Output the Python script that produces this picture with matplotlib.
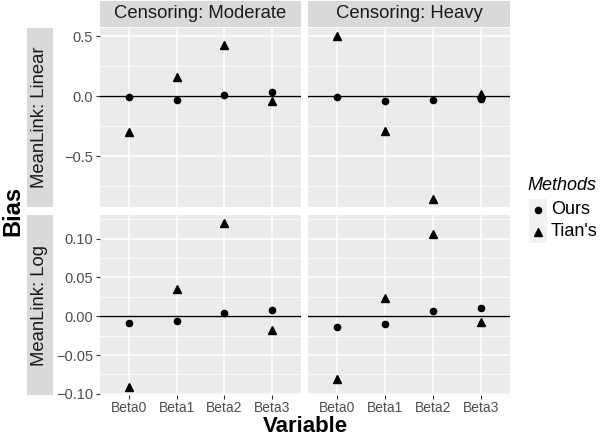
import numpy as np
import matplotlib
matplotlib.use("Agg")
import matplotlib.pyplot as plt
from matplotlib.ticker import MultipleLocator

variables = ["Beta0", "Beta1", "Beta2", "Beta3"]
censoring = ["Moderate", "Heavy"]
links = ["Linear", "Log"]

# bias values: [link][censoring]
ours = {
    ("Linear", "Moderate"): [-0.008, -0.035, 0.008, 0.036],
    ("Linear", "Heavy"): [-0.003, -0.040, -0.035, -0.020],
    ("Log", "Moderate"): [-0.0081, -0.0064, 0.0047, 0.0080],
    ("Log", "Heavy"): [-0.0137, -0.0103, 0.0073, 0.0103],
}
tians = {
    ("Linear", "Moderate"): [-0.300, 0.163, 0.427, -0.040],
    ("Linear", "Heavy"): [0.500, -0.290, -0.854, 0.020],
    ("Log", "Moderate"): [-0.091, 0.035, 0.120, -0.018],
    ("Log", "Heavy"): [-0.081, 0.024, 0.106, -0.0077],
}

W, H = 600, 437
fig = plt.figure(figsize=(W / 100, H / 100), dpi=100)
plt.rcParams["font.family"] = ["Liberation Sans", "DejaVu Sans"]

bg = "#EBEBEB"
strip_bg = "#D9D9D9"
tick_col = "#4D4D4D"


def px_axes(x0, y0, x1, y1, **kw):
    return fig.add_axes([x0 / W, 1 - y1 / H, (x1 - x0) / W, (y1 - y0) / H], **kw)


col_x = [(100, 301), (308, 510)]
row_y = [(28, 207), (215, 395)]
major = {"Linear": 0.5, "Log": 0.05}
fmt = {"Linear": "{:.1f}", "Log": "{:.2f}"}

x = np.arange(1, len(variables) + 1)

for r, link in enumerate(links):
    allv = []
    for c in censoring:
        allv += ours[(link, c)] + tians[(link, c)]
    lo, hi = min(allv), max(allv)
    pad = (hi - lo) * 0.05
    ylim = (lo - pad, hi + pad)
    for ci, cens in enumerate(censoring):
        x0, x1 = col_x[ci]
        y0, y1 = row_y[r]
        ax = px_axes(x0, y0, x1, y1)
        ax.set_facecolor(bg)
        for s in ax.spines.values():
            s.set_visible(False)
        ax.set_xlim(0.4, len(variables) + 0.6)
        ax.set_ylim(*ylim)
        ax.yaxis.set_major_locator(MultipleLocator(major[link]))
        ax.yaxis.set_minor_locator(MultipleLocator(major[link] / 2))
        ax.set_xticks(x)
        ax.grid(True, which="major", color="white", linewidth=1.1)
        ax.grid(True, which="minor", axis="y", color="white", linewidth=0.55)
        ax.set_axisbelow(True)
        ax.axhline(0, color="black", linewidth=1.0, zorder=2)
        ax.plot(x, ours[(link, cens)], "o", color="black", markersize=4.5, zorder=3)
        ax.plot(x, tians[(link, cens)], "^", color="black", markersize=5.5, zorder=3)
        ax.tick_params(which="major", length=3, width=0.8, color="#333333",
                       labelcolor=tick_col, labelsize=10, pad=2)
        ax.tick_params(axis="x", pad=1)
        ax.tick_params(which="minor", length=0)
        if r == 1:
            ax.set_xticklabels(variables)
        else:
            ax.tick_params(axis="x", labelbottom=False, length=0)
        if ci == 0:
            ticks = ax.get_yticks()
            ticks = [t for t in ticks if ylim[0] <= t <= ylim[1]]
            ax.set_yticks(ticks)
            ax.set_yticklabels([fmt[link].format(t).replace("-", "\u2212") for t in ticks],
                               fontsize=10.5)
        else:
            ax.tick_params(axis="y", labelleft=False, length=0)

# column strips
for ci, cens in enumerate(censoring):
    x0, x1 = col_x[ci]
    sax = px_axes(x0, 1, x1, 27)
    sax.set_facecolor(strip_bg)
    sax.set_xticks([]); sax.set_yticks([])
    for s in sax.spines.values():
        s.set_visible(False)
    sax.text(0.5, 0.5, "Censoring: " + cens, ha="center", va="center",
             fontsize=13.3, color="#1A1A1A", transform=sax.transAxes)

# row strips (left side)
for r, link in enumerate(links):
    y0, y1 = row_y[r]
    sax = px_axes(27, y0, 53, y1)
    sax.set_facecolor(strip_bg)
    sax.set_xticks([]); sax.set_yticks([])
    for s in sax.spines.values():
        s.set_visible(False)
    sax.text(0.5, 0.5, "MeanLink: " + link, ha="center", va="center", rotation=90,
             fontsize=13.3, color="#1A1A1A", transform=sax.transAxes)

fig.text(13 / W, 1 - 211 / H, "Bias", rotation=90, ha="center", va="center",
         fontsize=17, fontweight="bold")
fig.text(305 / W, 1 - 432 / H, "Variable", ha="center", va="baseline",
         fontsize=16, fontweight="bold")

# legend
fig.text(527 / W, 1 - 186 / H, "Methods", ha="left", va="center",
         fontsize=13, style="italic")
for i, (lab, mk, ms) in enumerate([("Ours", "o", 4.5), ("Tian's", "^", 5.5)]):
    yc = 210 + i * 22
    kax = px_axes(529, yc - 11, 547, yc + 11)
    kax.set_facecolor("#F2F2F2")
    kax.set_xticks([]); kax.set_yticks([])
    for s in kax.spines.values():
        s.set_visible(False)
    kax.set_xlim(0, 1); kax.set_ylim(0, 1)
    kax.plot([0.5], [0.5], mk, color="black", markersize=ms)
    fig.text(551 / W, 1 - yc / H, lab, ha="left", va="center", fontsize=13)

fig.savefig("out.png", dpi=100)
